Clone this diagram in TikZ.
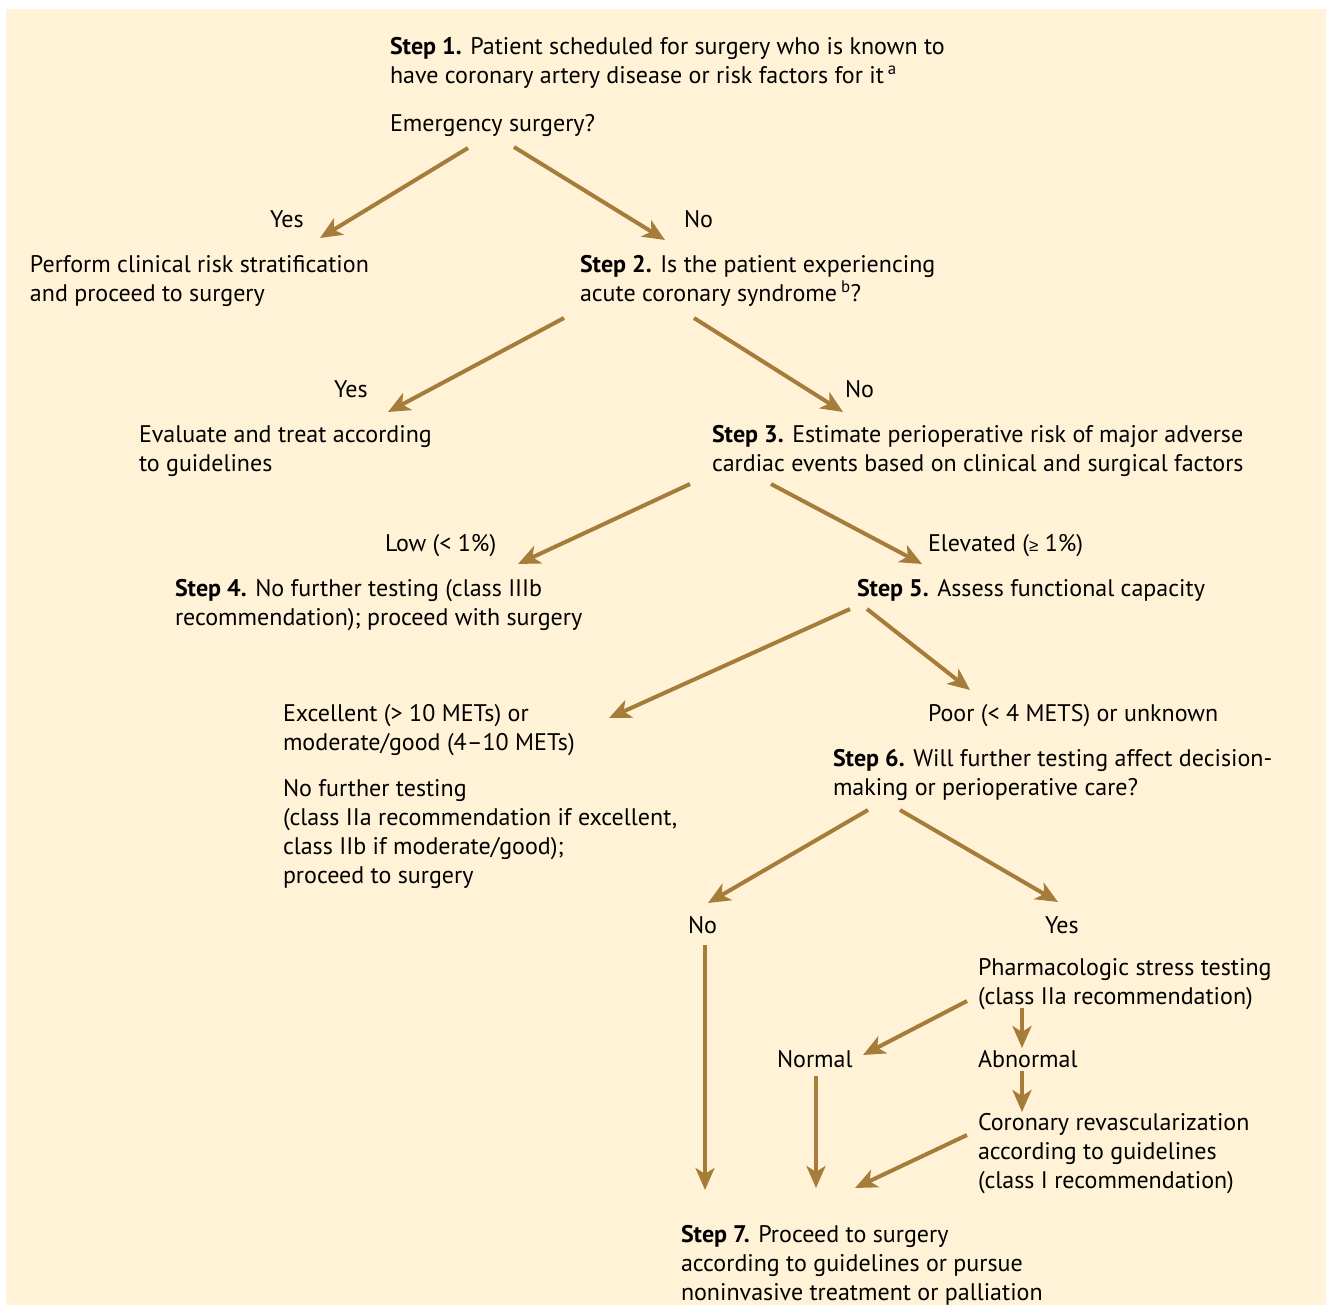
\documentclass[tikz,border=0pt]{standalone}
\usepackage{fontspec}
\setmainfont{PT Sans}
\newfontfamily\symf{Liberation Sans}
\usetikzlibrary{arrows.meta}
\definecolor{bgc}{RGB}{255,242,214}
\definecolor{arc}{RGB}{166,124,58}
\begin{document}
\begin{tikzpicture}[x=1pt,y=-1pt,
  txt/.style={inner sep=0pt, outer sep=0pt, align=left, anchor=base west, text=black,
    font=\fontsize{24}{29}\selectfont},
  arr/.style={draw=arc, line width=4pt, -{Stealth[length=22pt,width=19pt,inset=6pt]}}]
\useasboundingbox (0,0) rectangle (1326,1305);
\fill[bgc] (6,9) rectangle (1326,1305);

% texts (anchor = baseline of the last line)
\node[txt] (step1) at (390,84) {\textbf{Step 1.} Patient scheduled for surgery who is known to\\have coronary artery disease or risk factors for it\,\textsuperscript{a}};
\node[txt] (emerg) at (390,132) {Emergency surgery?};
\node[txt] (yes1) at (270,228) {Yes};
\node[txt] (no1) at (684,228) {No};
\node[txt] (perform) at (30,302) {Perform clinical risk stratification\\and proceed to surgery};
\node[txt] (step2) at (580,302) {\textbf{Step 2.} Is the patient experiencing\\acute coronary syndrome\,\textsuperscript{b}?};
\node[txt] (yes2) at (334,398) {Yes};
\node[txt] (no2) at (845,398) {No};
\node[txt] (evaluate) at (139,472) {Evaluate and treat according\\to guidelines};
\node[txt] (step3) at (712,472) {\textbf{Step 3.} Estimate perioperative risk of major adverse\\cardiac events based on clinical and surgical factors};
\node[txt] (low) at (385,551) {Low (< 1\%)};
\node[txt] (elev) at (928,551) {Elevated ({\symf\fontsize{17}{17}\selectfont ≥} 1\%)};
\node[txt] (step4) at (175,625) {\textbf{Step 4.} No further testing (class IIIb\\recommendation); proceed with surgery};
\node[txt] (step5) at (857,596) {\textbf{Step 5.} Assess functional capacity};
\node[txt] (excel) at (283,750) {Excellent (> 10 METs) or\\moderate/good (4–10 METs)};
\node[txt] (nofurther) at (283,883) {No further testing\\(class IIa recommendation if excellent,\\class IIb if moderate/good);\\proceed to surgery};
\node[txt] (poor) at (928,721) {Poor (< 4 METS) or unknown};
\node[txt] (step6) at (833,795) {\textbf{Step 6.} Will further testing affect decision-\\making or perioperative care?};
\node[txt] (no3) at (688,933) {No};
\node[txt] (yes3) at (1045,933) {Yes};
\node[txt] (pharm) at (978,1004) {Pharmacologic stress testing\\(class IIa recommendation)};
\node[txt] (normal) at (777,1067) {Normal};
\node[txt] (abnormal) at (978,1067) {Abnormal};
\node[txt] (coronary) at (978,1188) {Coronary revascularization\\according to guidelines\\(class I recommendation)};
\node[txt] (step7) at (681,1300) {\textbf{Step 7.} Proceed to surgery\\according to guidelines or pursue\\noninvasive treatment or palliation};

% connector end points
\coordinate (a1s) at (468,148); \coordinate (a1e) at (320,238);
\coordinate (a2s) at (514,147); \coordinate (a2e) at (665,240);
\coordinate (a3s) at (564,318); \coordinate (a3e) at (388,412);
\coordinate (a4s) at (694,318); \coordinate (a4e) at (843,412);
\coordinate (a5s) at (690,484); \coordinate (a5e) at (518,564);
\coordinate (a6s) at (771,484); \coordinate (a6e) at (922,564);
\coordinate (a7s) at (850,609); \coordinate (a7e) at (609,718);
\coordinate (a8s) at (867,609); \coordinate (a8e) at (970,690);
\coordinate (a9s) at (868,810); \coordinate (a9e) at (708,903);
\coordinate (a10s) at (900,810); \coordinate (a10e) at (1058,902);
\coordinate (a11s) at (705,945); \coordinate (a11e) at (705,1190);
\coordinate (a12s) at (967,1001); \coordinate (a12e) at (863,1055);
\coordinate (a13s) at (1022,1008); \coordinate (a13e) at (1022,1048);
\coordinate (a14s) at (1022,1071); \coordinate (a14e) at (1022,1112);
\coordinate (a15s) at (816,1076); \coordinate (a15e) at (816,1188);
\coordinate (a16s) at (967,1135); \coordinate (a16e) at (855,1188);

\foreach \i in {1,...,16} \draw[arr] (a\i s) -- (a\i e);
\end{tikzpicture}
\end{document}
